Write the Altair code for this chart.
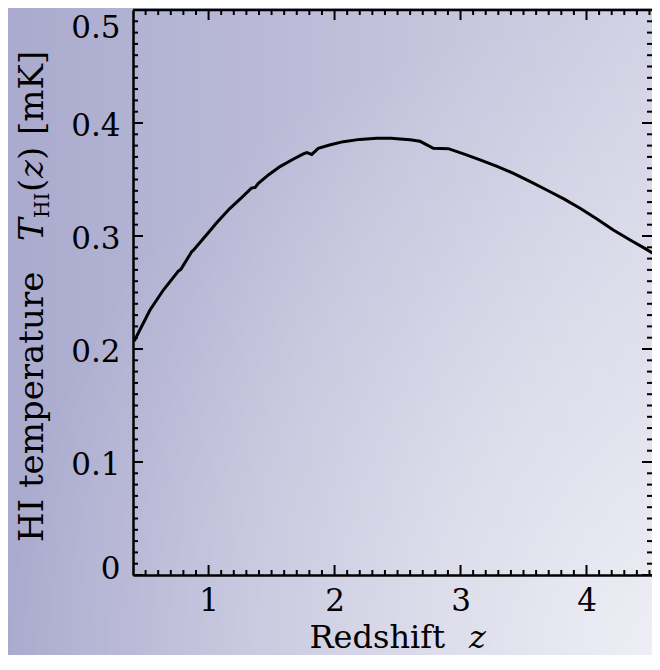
import altair as alt
import pandas as pd

# ---- data ----
redshift = [0.41, 0.45, 0.535, 0.641, 0.76, 0.78, 0.866, 0.88, 1.011, 1.064, 1.17, 1.26,
            1.34, 1.37, 1.395, 1.48, 1.567, 1.66, 1.752, 1.78, 1.819, 1.871, 1.96, 2.07,
            2.2, 2.335, 2.45, 2.52, 2.6, 2.679, 2.784, 2.903, 3.03, 3.155, 3.29, 3.42,
            3.55, 3.684, 3.82, 3.949, 4.08, 4.213, 4.35, 4.47, 4.584]
t_hi = [0.2071, 0.2159, 0.2345, 0.2522, 0.2690, 0.2705, 0.2861, 0.2875, 0.3047, 0.3118,
        0.3245, 0.3338, 0.3424, 0.3430, 0.3466, 0.3545, 0.3614, 0.3673, 0.3726, 0.3738,
        0.3722, 0.3776, 0.3805, 0.3835, 0.3855, 0.3865, 0.3864, 0.3859, 0.3851, 0.3838,
        0.3776, 0.3773, 0.3725, 0.3673, 0.3616, 0.3555, 0.3483, 0.3407, 0.3328, 0.3245,
        0.3152, 0.3053, 0.2963, 0.2886, 0.2810]

x_major_ticks = [1, 2, 3, 4]
x_minor_ticks = [0.5, 0.6, 0.7, 0.8, 0.9, 1.1, 1.2, 1.3, 1.4, 1.5, 1.6, 1.7, 1.8, 1.9,
                 2.1, 2.2, 2.3, 2.4, 2.5, 2.6, 2.7, 2.8, 2.9, 3.1, 3.2, 3.3, 3.4, 3.5,
                 3.6, 3.7, 3.8, 3.9, 4.1, 4.2, 4.3, 4.4, 4.5]
y_major_ticks = [0, 0.1, 0.2, 0.3, 0.4, 0.5]
y_minor_ticks = [i / 100 for i in range(1, 50) if i % 10 != 0]

x_domain = [0.4, 4.52]
y_domain = [0, 0.5]

W, H = 519, 565
FONT = "DejaVu Serif"
FS = 31      # tick labels
TFS = 34     # y title
XTFS = 32    # x title
BOTTOM = 80

df = pd.DataFrame({"z": redshift, "T": t_hi})
xs = alt.Scale(domain=x_domain, nice=False, zero=False)
ys = alt.Scale(domain=y_domain, nice=False, zero=False)
one = alt.Data(values=[{}])

# ---- background gradient ----
bg = alt.Chart(one).mark_rect(
    fill={"gradient": "linear", "x1": 0, "y1": 0, "x2": 1, "y2": 0,
          "stops": [{"offset": 0, "color": "#aaaace"},
                    {"offset": 1, "color": "#d2d2e5"}]}
).encode(x=alt.value(-125), x2=alt.value(W), y=alt.value(-2), y2=alt.value(H + BOTTOM))

glow = alt.Chart(one).mark_rect(
    fill={"gradient": "radial", "x1": 1, "y1": 1, "r1": 0, "x2": 1, "y2": 1, "r2": 1,
          "stops": [{"offset": 0, "color": "rgba(255,255,255,0.62)"},
                    {"offset": 1, "color": "rgba(255,255,255,0)"}]}
).encode(x=alt.value(-125), x2=alt.value(W), y=alt.value(-2), y2=alt.value(H + BOTTOM))

# ---- curve with the labelled axes ----
main = alt.Chart(df).mark_line(color="black", strokeWidth=3).encode(
    x=alt.X("z:Q", scale=xs, axis=alt.Axis(
        orient="bottom", values=x_major_ticks, format="d", ticks=False, tickSize=0,
        labelFont=FONT, labelFontSize=FS, labelColor="black", labelPadding=11,
        labelFlush=False, domain=True, domainColor="black", domainWidth=2.5,
        grid=False, zindex=1, title=None)),
    y=alt.Y("T:Q", scale=ys, axis=alt.Axis(
        orient="left", values=y_major_ticks,
        labelExpr="datum.value < 0.05 ? '0' : format(datum.value, '.1f')",
        ticks=False, tickSize=0, labelFont=FONT, labelFontSize=FS, labelColor="black",
        labelPadding=13, labelOffset=3, labelFlush=False,
        labelBaseline={"condition": [{"test": "datum.value > 0.45", "value": "top"},
                                     {"test": "datum.value < 0.05", "value": "alphabetic"}],
                       "value": "middle"},
        domain=True, domainColor="black", domainWidth=2.5,
        grid=False, zindex=1, title=None)),
)


# ---- inward ticks on all four sides ----
def x_ticks(values, size, at_bottom):
    y0 = H if at_bottom else 0
    y1 = H - size if at_bottom else size
    return alt.Chart(pd.DataFrame({"v": values})).mark_rule(
        color="black", strokeWidth=2
    ).encode(x=alt.X("v:Q", scale=xs, axis=None), y=alt.value(y0), y2=alt.value(y1))


def y_ticks(values, size, at_left):
    x0 = 0 if at_left else W
    x1 = size if at_left else W - size
    return alt.Chart(pd.DataFrame({"v": values})).mark_rule(
        color="black", strokeWidth=2
    ).encode(y=alt.Y("v:Q", scale=ys, axis=None), x=alt.value(x0), x2=alt.value(x1))


ticks = [
    x_ticks(x_major_ticks, 10, True), x_ticks(x_minor_ticks, 5, True),
    x_ticks(x_major_ticks, 10, False), x_ticks(x_minor_ticks, 5, False),
    y_ticks(y_major_ticks, 10, True), y_ticks(y_minor_ticks, 5, True),
    y_ticks(y_major_ticks, 10, False), y_ticks(y_minor_ticks, 5, False),
]

top_frame = alt.Chart(one).mark_rule(color="black", strokeWidth=2.5).encode(
    x=alt.value(0), x2=alt.value(W), y=alt.value(0))


# ---- titles (pieces for italics and subscript) ----
def label(text, x, y, size=TFS, style="normal", angle=0, align="left"):
    return alt.Chart(one).mark_text(
        text=text, font=FONT, fontSize=size, fontStyle=style, angle=angle,
        align=align, baseline="alphabetic", color="black"
    ).encode(x=alt.value(x), y=alt.value(y))


texts = [
    label("Redshift", 312, 638, size=XTFS, align="right"),
    label("z", 336, 638, size=XTFS, style="italic"),
    label("HI temperature", -90, 532, angle=270),
    label("T", -90, 231, style="italic", angle=270),
    label("HI", -84, 208, size=20, angle=270),
    label("(", -90, 182, angle=270),
    label("z", -90, 168, style="italic", angle=270),
    label(")", -90, 150, angle=270),
    label("[mK]", -90, 125, angle=270),
]

chart = alt.layer(
    bg, glow, main, *ticks, top_frame, *texts
).resolve_axis(
    x="independent", y="independent"
).properties(
    width=W, height=H,
    padding={"left": 125, "top": 2, "right": 0, "bottom": BOTTOM},
    autosize=alt.AutoSizeParams(type="none"),
).configure_view(stroke=None)

chart.save("out.html", embed_options={"renderer": "svg", "actions": False})
